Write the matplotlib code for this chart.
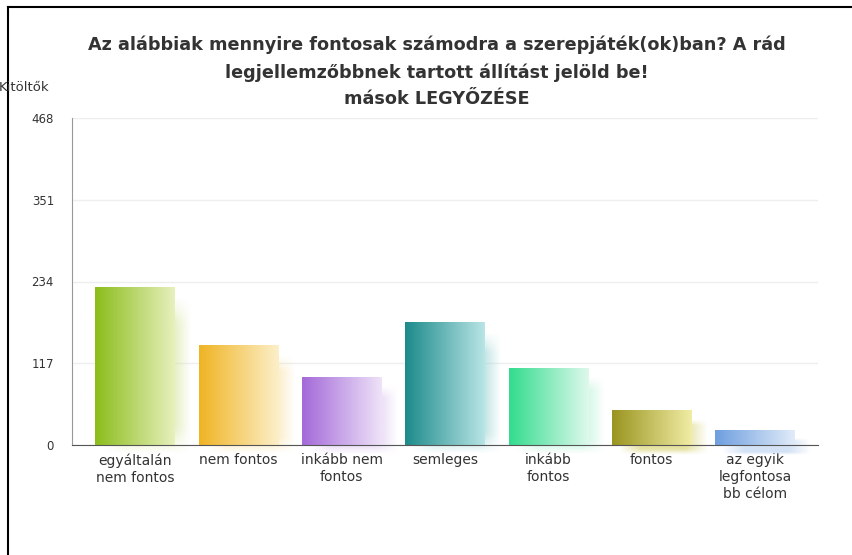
"""Bar chart: how important is defeating others in role-playing games."""

import matplotlib

matplotlib.use("Agg")
import matplotlib.pyplot as plt
import numpy as np
from matplotlib.colors import to_rgb
from matplotlib.lines import Line2D

categories = [
    "egyáltalán\nnem fontos",
    "nem fontos",
    "inkább nem\nfontos",
    "semleges",
    "inkább\nfontos",
    "fontos",
    "az egyik\nlegfontosa\nbb célom",
]
counts = [225, 142, 97, 175, 110, 49, 21]
y_ticks = [0, 117, 234, 351, 468]

dark_colors = ["#8cbd1c", "#f0b424", "#a46ad9", "#1d8b8b", "#33dc8e", "#9a9520", "#6f9fe0"]
light_colors = ["#e6f0bc", "#fcefc8", "#eee2f8", "#b8e4e5", "#def9ec", "#f0eca4", "#e0ebf8"]

title = (
    "Az alábbiak mennyire fontosak számodra a szerepjáték(ok)ban? A rád\n"
    "legjellemzőbbnek tartott állítást jelöld be!\n"
    "mások LEGYŐZÉSE"
)

fig = plt.figure(figsize=(8.52, 5.55), dpi=100)
ax = fig.add_axes([72 / 852, 1 - 445 / 555, (818 - 72) / 852, (445 - 118) / 555])

bar_w = 0.77
x_pos = np.arange(len(categories))


def gradient(c0, c1, n=64):
    a = np.array(to_rgb(c0))
    b = np.array(to_rgb(c1))
    t = np.linspace(0, 1, n)[:, None]
    return (a + (b - a) * t)[None, :, :]


def soft_shadow(c0, c1, nx=40, ny=40):
    gx = np.clip(np.minimum(np.linspace(0, 1, nx), np.linspace(1, 0, nx)) * 4, 0, 1)
    gy = np.clip(np.minimum(np.linspace(0, 1, ny), np.linspace(1, 0, ny)) * 6, 0, 1)
    alpha = np.outer(gy, gx) * 0.8
    rgba = np.zeros((ny, nx, 4))
    rgba[..., :3] = 0.8 * np.array(to_rgb(c1)) + 0.2 * np.array(to_rgb(c0))
    rgba[..., 3] = alpha
    return rgba


for x, v, c0, c1 in zip(x_pos, counts, dark_colors, light_colors):
    # blurred shadow behind, offset right and down
    ax.imshow(
        soft_shadow(c0, c1),
        extent=[x - bar_w / 2 + 0.06, x + bar_w / 2 + 0.17, -14, v - 12],
        aspect="auto",
        zorder=1,
        interpolation="bilinear",
        clip_on=False,
    )
    ax.imshow(
        gradient(c0, c1),
        extent=[x - bar_w / 2, x + bar_w / 2, 0, v],
        aspect="auto",
        zorder=2,
        interpolation="bilinear",
    )

ax.set_xlim(-0.61, 6.61)
ax.set_ylim(0, 468)
ax.set_yticks(y_ticks)
ax.set_yticklabels([str(t) for t in y_ticks])
ax.set_xticks(x_pos)
ax.set_xticklabels(categories, fontsize=10, color="#333333", linespacing=1.25)
ax.tick_params(axis="y", length=0, pad=13, labelsize=8.5, labelcolor="#333333")
ax.tick_params(axis="x", length=0, pad=6)

ax.grid(True, axis="y", color="#eeeeee", linewidth=1)
ax.set_axisbelow(True)
for s in ("top", "right"):
    ax.spines[s].set_visible(False)
ax.spines["left"].set_color("#999999")
ax.spines["bottom"].set_color("#555555")
ax.spines["bottom"].set_zorder(5)
ax.spines["left"].set_zorder(5)

fig.text(437 / 852, 1 - 72 / 555, title, ha="center", va="center", fontsize=12.7,
         fontweight="bold", color="#333333", linespacing=1.6)
fig.text(-1 / 852, 1 - 88 / 555, "Kitöltők", ha="left", va="center", fontsize=9.5,
         color="#333333")

# page frame: top and left edges only
fig.add_artist(Line2D([8 / 852, 1], [1 - 7 / 555, 1 - 7 / 555], color="black", linewidth=1.5))
fig.add_artist(Line2D([8 / 852, 8 / 852], [0, 1 - 7 / 555], color="black", linewidth=1.5))

fig.savefig("out.png", dpi=100)
plt.close(fig)
